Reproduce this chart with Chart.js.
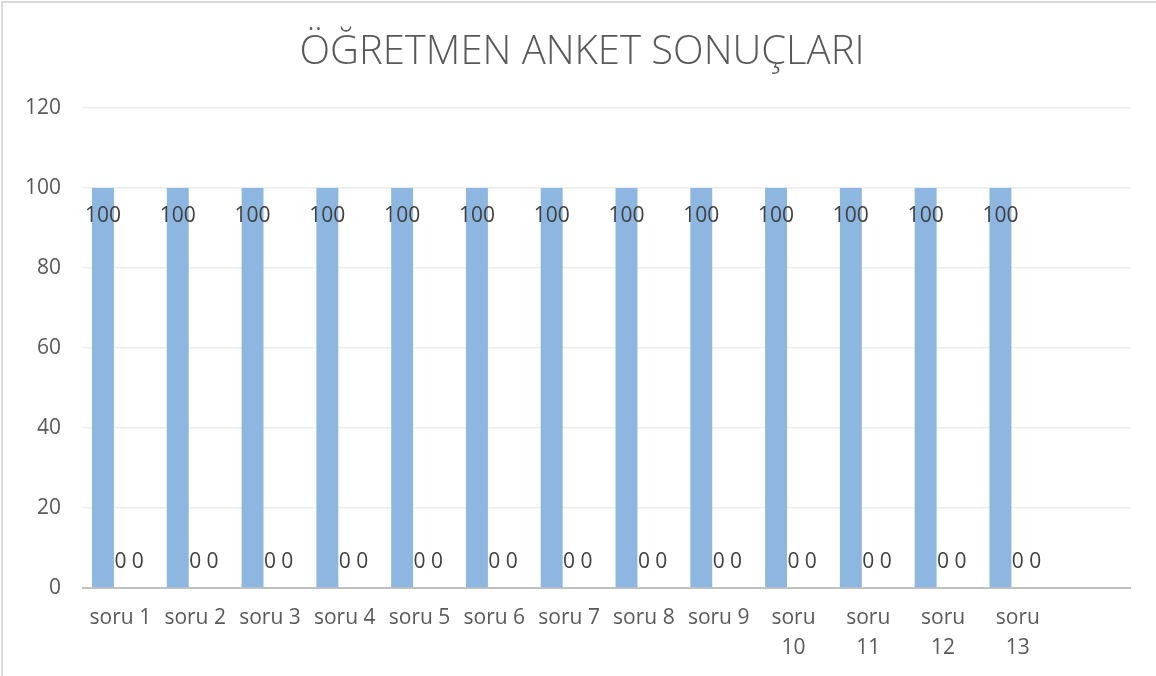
<!DOCTYPE html>
<html>
<head>
<meta charset="utf-8">
<script src="https://cdn.jsdelivr.net/npm/chart.js@4"></script>
<style>
  body { margin: 0; background: #fff; }
  #wrap { position: relative; width: 1156px; height: 676px; }
  #frame { position: absolute; left: 1px; top: 1px; width: 1200px; height: 800px;
           border: 2px solid #d9d9d9; pointer-events: none; }
</style>
</head>
<body>
<div id="wrap">
  <canvas id="anket" width="1156" height="676"></canvas>
  <div id="frame"></div>
</div>
<script>
// sorular (14. kategori boş)
const baslik = "ÖĞRETMEN ANKET SONUÇLARI";
const labels = ["soru 1", "soru 2", "soru 3", "soru 4", "soru 5", "soru 6", "soru 7",
  "soru 8", "soru 9", ["soru", "10"], ["soru", "11"], ["soru", "12"], ["soru", "13"], ""];
const seri1 = [100, 100, 100, 100, 100, 100, 100, 100, 100, 100, 100, 100, 100, null];
const seri2 = [0, 0, 0, 0, 0, 0, 0, 0, 0, 0, 0, 0, 0, null];
const seri3 = [0, 0, 0, 0, 0, 0, 0, 0, 0, 0, 0, 0, 0, null];
const yTicks = [0, 20, 40, 60, 80, 100, 120];

// değer etiketleri + başlık (Excel gibi)
const degerEtiketi = {
  id: "degerEtiketi",
  afterDatasetsDraw(chart) {
    const ctx = chart.ctx;
    ctx.save();
    ctx.font = "21px 'Open Sans'";
    ctx.fillStyle = "#404040";
    ctx.textAlign = "center";
    ctx.textBaseline = "middle";
    chart.data.datasets.forEach((ds, i) => {
      chart.getDatasetMeta(i).data.forEach((bar, j) => {
        const v = ds.data[j];
        if (v === null || v === undefined) return;
        const y = v > 0 ? bar.y + 28 : bar.y - 26;
        ctx.fillText(String(v), bar.x, y);
      });
    });
    ctx.font = "300 40px 'Open Sans'";
    ctx.fillStyle = "#595959";
    ctx.fillText(baslik, 582, 53);
    ctx.restore();
  }
};

const ctx = document.getElementById("anket");
new Chart(ctx, {
  type: "bar",
  data: {
    labels: labels,
    datasets: [
      { data: seri1, backgroundColor: "#8db7e1" },
      { data: seri2, backgroundColor: "#c0504d" },
      { data: seri3, backgroundColor: "#9bbb59" }
    ]
  },
  options: {
    responsive: false,
    animation: false,
    layout: { padding: { top: 108, right: 26, bottom: 6, left: 0 } },
    datasets: { bar: { categoryPercentage: 0.698, barPercentage: 1.26 } },
    scales: {
      x: {
        grid: { display: false },
        border: { color: "#c0c0c0", width: 2 },
        ticks: { color: "#595959", font: { family: "'Open Sans'", size: 21, lineHeight: 1.43 },
          padding: 7, maxRotation: 0, autoSkip: false }
      },
      y: {
        min: 0, max: 120,
        afterFit(scale) { scale.width = 83; },
        afterBuildTicks(scale) { scale.ticks = yTicks.map(v => ({ value: v })); },
        grid: { color: "#ececec", lineWidth: 1.5, drawTicks: false },
        border: { display: false },
        ticks: { color: "#595959", font: { family: "'Open Sans'", size: 21 }, padding: 22 }
      }
    },
    plugins: {
      legend: { display: false },
      tooltip: { enabled: false },
      title: { display: false }
    }
  },
  plugins: [degerEtiketi]
});
</script>
</body>
</html>
